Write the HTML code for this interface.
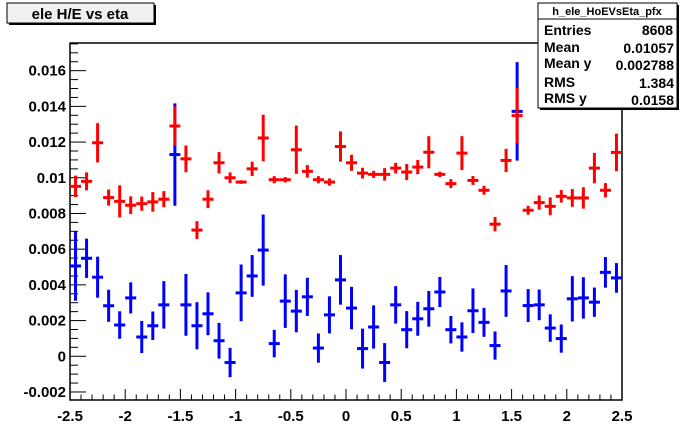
<!DOCTYPE html>
<html><head><meta charset="utf-8"><style>
body{margin:0;background:#fff;}
svg{display:block;font-family:"Liberation Sans",Arial,sans-serif;font-weight:bold;}
</style></head><body>
<svg id="c" width="692" height="444">
<rect x="0" y="0" width="692" height="444" fill="#fff"/>
<g>
<rect x="9" y="5" width="147" height="20" fill="#000"/>
<rect x="7" y="3" width="147" height="20" fill="#f0f0f0" stroke="#000" stroke-width="1"/>
<text x="80" y="19" text-anchor="middle" font-size="15">ele H/E vs eta</text>
</g>
<g id="plot"></g>
<g>
<rect x="540" y="5" width="139" height="105" fill="#000"/>
<rect x="538" y="3" width="139" height="105" fill="#fff" stroke="#000" stroke-width="1"/>
<line x1="538" y1="19" x2="677" y2="19" stroke="#000"/>
<text x="607" y="15" text-anchor="middle" font-size="11">h_ele_HoEVsEta_pfx</text>
<g font-size="14">
<text x="544" y="35">Entries</text><text x="673" y="35" text-anchor="end">8608</text>
<text x="544" y="52">Mean</text><text x="674" y="53" text-anchor="end">0.01057</text>
<text x="544" y="68">Mean y</text><text x="674" y="70" text-anchor="end">0.002788</text>
<text x="544" y="87">RMS</text><text x="674" y="88" text-anchor="end">1.384</text>
<text x="544" y="103">RMS y</text><text x="674" y="105" text-anchor="end">0.0158</text>
</g>
</g>
</svg>
<script>
const etaCenters=[-2.45,-2.35,-2.25,-2.15,-2.05,-1.95,-1.85,-1.75,-1.65,-1.55,-1.45,-1.35,-1.25,-1.15,-1.05,-0.95,-0.85,-0.75,-0.65,-0.55,-0.45,-0.35,-0.25,-0.15,-0.05,0.05,0.15,0.25,0.35,0.45,0.55,0.65,0.75,0.85,0.95,1.05,1.15,1.25,1.35,1.45,1.55,1.65,1.75,1.85,1.95,2.05,2.15,2.25,2.35,2.45];
const redValues=[9.52,9.8,11.96,8.89,8.68,8.46,8.55,8.65,8.8,12.9,11.06,7.07,8.8,10.84,10.0,9.76,10.5,12.23,9.89,9.89,11.57,10.36,9.89,9.76,11.75,10.84,10.26,10.19,10.19,10.54,10.32,10.6,11.43,10.19,9.67,11.38,9.85,9.3,7.4,10.97,13.48,8.18,8.61,8.4,8.96,8.87,8.87,10.54,9.3,11.42];
const redErrors=[0.6,0.5,1.1,0.45,0.9,0.5,0.4,0.55,0.45,1.1,0.75,0.5,0.5,0.6,0.3,0.1,0.4,1.3,0.2,0.15,1.35,0.35,0.2,0.2,0.85,0.45,0.3,0.2,0.35,0.3,0.45,0.4,0.9,0.15,0.25,0.95,0.25,0.25,0.4,0.65,1.55,0.25,0.4,0.5,0.35,0.5,0.6,0.85,0.4,1.05];
const blueValues=[5.06,5.49,4.43,2.83,1.75,3.27,1.08,1.71,2.88,11.3,2.88,1.71,2.38,0.87,-0.35,3.55,4.5,5.95,0.71,3.09,2.53,3.33,0.46,2.32,4.28,2.7,0.43,1.64,-0.35,2.88,1.49,2.1,2.66,3.6,1.49,1.08,2.55,1.9,0.6,3.66,13.72,2.84,2.88,1.58,0.99,3.22,3.27,3.03,4.7,4.39];
const blueErrors=[1.95,1.1,1.15,0.9,0.77,0.87,0.9,0.8,1.33,2.87,1.73,1.32,1.2,1.0,0.82,1.59,1.17,1.99,0.77,1.5,1.19,1.07,0.82,1.04,1.39,1.19,1.12,1.21,1.09,1.05,1.04,0.95,1.0,0.84,0.77,0.82,1.25,0.81,0.79,1.45,2.76,0.92,0.86,0.77,0.79,1.27,1.16,0.82,0.86,0.83];
const yTickLabels=["-0.002","0","0.002","0.004","0.006","0.008","0.01","0.012","0.014","0.016"];
const xTickLabels=["-2.5","-2","-1.5","-1","-0.5","0","0.5","1","1.5","2","2.5"];
const L=70,R=622,T=43,B=400;
const xMin=-2.5,xMax=2.5,yMin=-2.45,yMax=17.55; // units of 0.001
const X=v=>L+(v-xMin)/(xMax-xMin)*(R-L);
const Y=v=>B-(v-yMin)/(yMax-yMin)*(B-T);
const NS='http://www.w3.org/2000/svg';
const g=document.getElementById('plot');
function mk(tag,attrs,parent){const e=document.createElementNS(NS,tag);for(const k in attrs)e.setAttribute(k,attrs[k]);(parent||g).appendChild(e);return e;}
const frame=mk('rect',{x:L,y:T,width:R-L,height:B-T,fill:'none',stroke:'#000','stroke-width':1.5});


for(let i=0;i<yTickLabels.length;i++){
  const v=parseFloat(yTickLabels[i])*1000;
  for(let m=(i==0?-1:0);m<4;m++){const vv=v+m*0.5;if(vv>yMax||vv<yMin)continue;const y=Y(vv);
    const t=mk('line',{x1:L,x2:L+(m==0?16:8),y1:y,y2:y,stroke:'#000'});
    
    }
  const tx=mk('text',{x:L-4,y:Y(v)+5,'text-anchor':'end','font-size':15});
  tx.textContent=yTickLabels[i];
  
  
}
for(let i=0;i<xTickLabels.length;i++){
  const v=parseFloat(xTickLabels[i]);
  for(let m=0;m<5;m++){const vv=v+m*0.1;if(vv>xMax+1e-9)break;const x=X(vv);
    const t=mk('line',{x1:x,x2:x,y1:B,y2:B-(m==0?11:5.5),stroke:'#000'});
    
    }
  const tx=mk('text',{x:X(v),y:B+21,'text-anchor':'middle','font-size':15});
  tx.textContent=xTickLabels[i];
  
  
}
function series(vals,errs,color,name){
  const sg=mk('g',{});
  
  
  for(let i=0;i<etaCenters.length;i++){
    const c=etaCenters[i];
    const v=Math.max(yMin,Math.min(yMax,vals[i]));
    const hi=Math.min(yMax,vals[i]+errs[i]),lo=Math.max(yMin,vals[i]-errs[i]);
    const pg=mk('g',{},sg);
    
    
    mk('line',{x1:X(c),x2:X(c),y1:Y(hi),y2:Y(lo),stroke:color,'stroke-width':3},pg);
    mk('line',{x1:X(c-0.05),x2:X(c+0.05),y1:Y(v),y2:Y(v),stroke:color,'stroke-width':3},pg);
  }
}
series(blueValues,blueErrors,'#0000ff','blue-series');
series(redValues,redErrors,'#ff0000','red-series');
</script>
</body></html>
